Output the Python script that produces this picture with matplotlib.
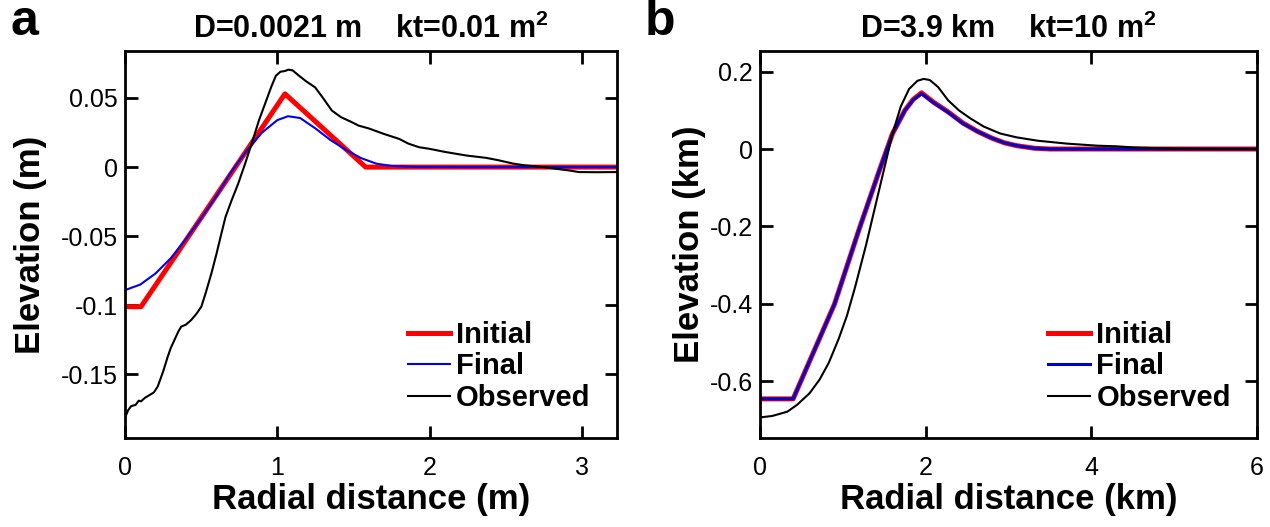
import matplotlib
matplotlib.use("Agg")
import matplotlib.pyplot as plt

plt.rcParams['font.family'] = ['Liberation Sans', 'DejaVu Sans']
plt.rcParams['mathtext.fontset'] = 'custom'
plt.rcParams['mathtext.rm'] = 'Liberation Sans'
plt.rcParams['mathtext.bf'] = 'Liberation Sans:bold'

# ---- panel a : laboratory scale ----
xa_initial = [0, 0.105, 1.05, 1.58, 3.23]
ya_initial = [-0.101, -0.101, 0.053, 0.0, 0.0]

xa_final = [0, 0.1, 0.2, 0.3, 0.4, 0.5, 0.6, 0.7, 0.8, 0.9, 1.0, 1.07, 1.15,
            1.25, 1.35, 1.45, 1.55, 1.65, 1.75, 1.9, 2.2, 3.23]
ya_final = [-0.089, -0.085, -0.077, -0.066, -0.052, -0.037, -0.021, -0.003,
            0.012, 0.025, 0.034, 0.0368, 0.0355, 0.028, 0.0195, 0.0125,
            0.0065, 0.0025, 0.0008, 0.0002, 0.0, 0.0]

xa_obs = [0, 0.02, 0.04, 0.07, 0.09, 0.105, 0.13, 0.16, 0.19, 0.215, 0.25,
          0.281, 0.30, 0.325, 0.35, 0.369, 0.40, 0.435, 0.47, 0.501, 0.53,
          0.567, 0.60, 0.633, 0.66, 0.70, 0.743, 0.79, 0.831, 0.88, 0.919,
          0.96, 0.99, 1.02, 1.05, 1.072, 1.10, 1.138, 1.19, 1.248, 1.30,
          1.358, 1.42, 1.48, 1.534, 1.60, 1.70, 1.80, 1.86, 1.93, 2.0, 2.10,
          2.24, 2.37, 2.45, 2.55, 2.63, 2.75, 2.85, 2.92, 2.98, 3.1, 3.23]
ya_obs = [-0.1815, -0.176, -0.173, -0.172, -0.169, -0.1695, -0.167, -0.165,
          -0.163, -0.1587, -0.148, -0.137, -0.131, -0.125, -0.119, -0.1154,
          -0.114, -0.1106, -0.106, -0.101, -0.091, -0.077, -0.063, -0.048,
          -0.036, -0.024, -0.012, 0.003, 0.0168, 0.034, 0.0457, 0.058, 0.066,
          0.069, 0.0695, 0.0705, 0.070, 0.0665, 0.062, 0.0577, 0.050, 0.0409,
          0.036, 0.033, 0.030, 0.028, 0.024, 0.0204, 0.017, 0.0144, 0.0132,
          0.011, 0.0084, 0.0067, 0.005, 0.0025, 0.0012, 0.0, -0.0015, -0.0025,
          -0.0036, -0.0037, -0.0036]

# ---- panel b : crater scale ----
xb_initial = [0, 0.40, 0.9, 1.2, 1.45, 1.6, 1.75, 1.85, 1.95, 2.1, 2.27,
              2.45, 2.63, 2.8, 2.95, 3.1, 3.31, 3.5, 6.0]
yb_initial = [-0.645, -0.645, -0.40, -0.205, -0.05, 0.04, 0.10, 0.128, 0.145,
              0.120, 0.096, 0.067, 0.045, 0.028, 0.016, 0.0085, 0.002, 0.0, 0.0]

xb_final = [0, 0.40, 0.9, 1.2, 1.45, 1.6, 1.75, 1.85, 1.95, 2.1, 2.27,
            2.45, 2.63, 2.8, 2.95, 3.1, 3.31, 3.5, 6.0]
yb_final = [-0.645, -0.645, -0.40, -0.205, -0.05, 0.04, 0.10, 0.127, 0.143,
            0.119, 0.095, 0.066, 0.045, 0.028, 0.016, 0.0085, 0.002, 0.0, 0.0]

xb_obs = [0, 0.15, 0.33, 0.45, 0.6, 0.72, 0.83, 0.95, 1.05, 1.15, 1.28, 1.4,
          1.5, 1.6, 1.7, 1.8, 1.9, 1.976, 2.05, 2.15, 2.27, 2.4, 2.54, 2.7,
          2.9, 3.1, 3.35, 3.7, 4.07, 4.3, 4.52, 4.98, 5.5, 6.0]
yb_obs = [-0.693, -0.689, -0.678, -0.66, -0.63, -0.595, -0.552, -0.49, -0.43,
          -0.355, -0.248, -0.14, -0.05, 0.04, 0.11, 0.155, 0.176, 0.181, 0.178,
          0.160, 0.126, 0.10, 0.079, 0.058, 0.040, 0.030, 0.0215, 0.014,
          0.0086, 0.007, 0.004, 0.001, 0.0, 0.0]

W, H = 1270, 527
fig = plt.figure(figsize=(W / 100, H / 100), dpi=100)
ax1 = fig.add_axes([125 / W, 1 - 438 / H, 492 / W, 387 / H])
ax2 = fig.add_axes([760 / W, 1 - 438 / H, 497 / W, 387 / H])


def style(ax, ylab_x):
    for s in ax.spines.values():
        s.set_linewidth(2)
    ax.tick_params(direction='in', length=9, width=2, top=True, right=True,
                   labelsize=18)
    ax.tick_params(axis='x', pad=13)
    ax.tick_params(axis='y', pad=5)
    ax.xaxis.label.set_va('center')
    ax.yaxis.label.set_va('center')
    ax.xaxis.set_label_coords(0.5, -0.16)
    ax.yaxis.set_label_coords(ylab_x, 0.5)


# panel a
ax1.plot(xa_initial, ya_initial, color='#ff0000', lw=3.6, label='Initial')
ax1.plot(xa_final, ya_final, color='#0000ee', lw=1.5, label='Final')
ax1.plot(xa_obs, ya_obs, color='black', lw=1.5, label='Observed')
ax1.set_xlim(0, 3.23)
ax1.set_ylim(-0.196, 0.084)
ax1.set_xticks([0, 1, 2, 3])
ax1.set_yticks([-0.15, -0.1, -0.05, 0, 0.05])
ax1.set_yticklabels(['-0.15', '-0.1', '-0.05', '0', '0.05'])
ax1.set_xlabel('Radial distance (m)', fontsize=25, fontweight='bold')
ax1.set_ylabel('Elevation (m)', fontsize=25, fontweight='bold')
ax1.set_title(r'D=0.0021 m    kt=0.01 m$^{\mathbf{2}}$', fontsize=22,
              fontweight='bold', pad=9)
style(ax1, -0.193)

# panel b
ax2.plot(xb_initial, yb_initial, color='#ff0000', lw=3.6, label='Initial')
ax2.plot(xb_final, yb_final, color='#0000cc', lw=2.2, label='Final')
ax2.plot(xb_obs, yb_obs, color='black', lw=1.5, label='Observed')
ax2.set_xlim(0, 6)
ax2.set_ylim(-0.746, 0.253)
ax2.set_xticks([0, 2, 4, 6])
ax2.set_yticks([-0.6, -0.4, -0.2, 0, 0.2])
ax2.set_yticklabels(['-0.6', '-0.4', '-0.2', '0', '0.2'])
ax2.set_xlabel('Radial distance (km)', fontsize=25, fontweight='bold')
ax2.set_ylabel('Elevation (km)', fontsize=25, fontweight='bold')
ax2.set_title(r'D=3.9 km    kt=10 m$^{\mathbf{2}}$', fontsize=22,
              fontweight='bold', pad=9)
style(ax2, -0.142)

for ax in (ax1, ax2):
    ax.legend(loc='lower right', frameon=False, prop={'weight': 'bold', 'size': 21},
              handlelength=1.45, handletextpad=0.2, labelspacing=0.12,
              borderaxespad=0.5)

fig.text(10 / W, 1 - 22 / H, 'a', fontsize=36, fontweight='bold', va='center')
fig.text(645 / W, 1 - 22 / H, 'b', fontsize=36, fontweight='bold', va='center')

fig.savefig('out.png', dpi=100)
